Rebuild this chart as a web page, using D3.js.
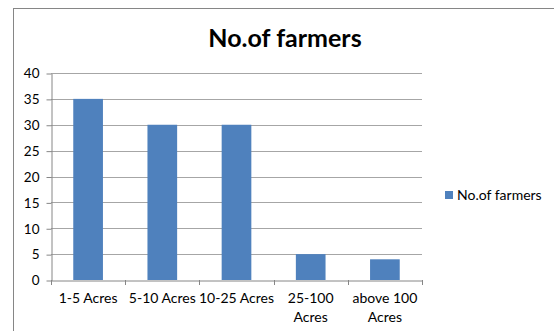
<!DOCTYPE html>
<html>
<head>
<meta charset="utf-8">
<script src="https://cdn.jsdelivr.net/npm/d3@7"></script>
<style>
  body { margin: 0; background: #fff; }
  text { font-family: Lato, "Open Sans", sans-serif; fill: #000; }
</style>
</head>
<body>
<div id="chart"></div>
<script>
const categories = ["1-5 Acres", "5-10 Acres", "10-25 Acres", "25-100 Acres", "above 100 Acres"]
const farmers = [35, 30, 30, 5, 4]
const yTicks = [0, 5, 10, 15, 20, 25, 30, 35, 40]
const seriesName = "No.of farmers"

const width = 554
const height = 331
const plotLeft = 51, plotRight = 422, plotTop = 73, plotBottom = 280

const svg = d3.select("#chart")
    .append("svg")
    .attr("width", width)
    .attr("height", height)

// outer chart border (runs off right and bottom)
svg.append("rect")
    .attr("x", 13.5).attr("y", 8.5)
    .attr("width", 600).attr("height", 400)
    .attr("fill", "none")
    .attr("stroke", "#868686")

const x = d3.scaleBand()
    .domain(categories)
    .range([plotLeft, plotRight])
    .paddingInner(0.6)
    .paddingOuter(0.3)

const xAxisScale = d3.scaleBand().domain(categories).range([plotLeft, plotRight])

const y = d3.scaleLinear()
    .domain([0, 40])
    .range([plotBottom, plotTop])

// gridlines
svg.append("g")
    .selectAll("line")
    .data(yTicks.slice(1))
    .enter()
    .append("line")
        .attr("x1", plotLeft).attr("x2", plotRight)
        .attr("y1", d => Math.round(y(d)) + 0.5)
        .attr("y2", d => Math.round(y(d)) + 0.5)
        .attr("stroke", "#a6a6a6")

// bars
svg.append("g")
    .selectAll("rect")
    .data(farmers)
    .enter()
    .append("rect")
        .attr("x", (d, i) => x(categories[i]))
        .attr("y", d => y(d))
        .attr("width", x.bandwidth())
        .attr("height", d => y(0) - y(d))
        .attr("fill", "#4f81bd")

// y axis
const yAxis = svg.append("g")
    .attr("transform", `translate(${plotLeft + 0.5},0.5)`)
    .call(d3.axisLeft(y).tickValues(yTicks).tickSize(5).tickSizeOuter(0))
yAxis.select(".domain").attr("stroke", "#868686")
yAxis.selectAll(".tick line").attr("stroke", "#868686")
yAxis.selectAll("text")
    .attr("x", -12)
    .style("font-size", "13.5px")
    .style("font-family", "Lato, sans-serif")
    .attr("fill", "#000")

// x axis
const xAxis = svg.append("g")
    .attr("transform", `translate(0.5,${plotBottom + 0.5})`)
    .call(d3.axisBottom(xAxisScale).tickSize(0).tickFormat(""))
xAxis.select(".domain").attr("stroke", "#868686")
xAxis.selectAll(".tick").remove()

const tickPos = categories.map(c => xAxisScale(c)).concat([plotRight])
svg.append("g")
    .selectAll("line")
    .data(tickPos)
    .enter()
    .append("line")
        .attr("x1", d => Math.round(d) + 0.5).attr("x2", d => Math.round(d) + 0.5)
        .attr("y1", plotBottom).attr("y2", plotBottom + 5)
        .attr("stroke", "#868686")

// category labels, wrapped like the original
const lines = c => {
    if (c === "25-100 Acres") return ["25-100", "Acres"]
    if (c === "above 100 Acres") return ["above 100", "Acres"]
    return [c]
}
const labels = svg.append("g")
    .selectAll("text")
    .data(categories)
    .enter()
    .append("text")
        .attr("text-anchor", "middle")
        .style("font-size", "14px")
labels.each(function(c) {
    const t = d3.select(this)
    lines(c).forEach((l, i) => {
        t.append("tspan")
            .attr("x", xAxisScale(c) + xAxisScale.bandwidth() / 2)
            .attr("y", 303 + i * 19)
            .text(l)
    })
})

// title
svg.append("text")
    .attr("x", 285)
    .attr("y", 47)
    .attr("text-anchor", "middle")
    .style("font-size", "25px")
    .style("font-weight", "bold")
    .text(seriesName)

// legend
svg.append("rect")
    .attr("x", 445).attr("y", 191)
    .attr("width", 8).attr("height", 8)
    .attr("fill", "#4f81bd")
svg.append("text")
    .attr("x", 457)
    .attr("y", 200)
    .style("font-size", "14px")
    .text(seriesName)
</script>
</body>
</html>
